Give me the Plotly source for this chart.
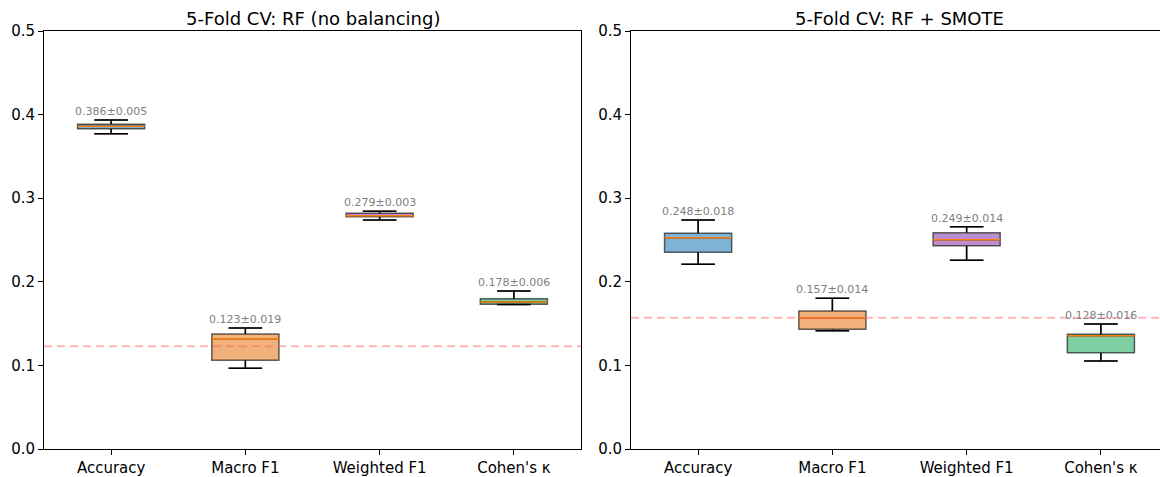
import plotly.graph_objects as go

# Metrics evaluated in 5-fold cross-validation
metrics = ["Accuracy", "Macro F1", "Weighted F1", "Cohen's κ"]

# Random forest without class balancing: per-metric box statistics
rf_q1 = [0.3832, 0.1061, 0.2779, 0.1731]
rf_median = [0.3862, 0.1320, 0.2791, 0.1758]
rf_q3 = [0.3884, 0.1376, 0.2819, 0.1798]
rf_low = [0.3772, 0.0965, 0.2739, 0.1728]
rf_high = [0.3936, 0.1447, 0.2843, 0.1890]
rf_mean = [0.386, 0.123, 0.279, 0.178]
rf_std = [0.005, 0.019, 0.003, 0.006]

# Random forest with SMOTE oversampling
sm_q1 = [0.2353, 0.1432, 0.2432, 0.1152]
sm_median = [0.2528, 0.1571, 0.2504, 0.1355]
sm_q3 = [0.2580, 0.1651, 0.2588, 0.1372]
sm_low = [0.2209, 0.1415, 0.2257, 0.1053]
sm_high = [0.2739, 0.1803, 0.2659, 0.1495]
sm_mean = [0.248, 0.157, 0.249, 0.128]
sm_std = [0.018, 0.014, 0.014, 0.016]

y_ticks = [0.0, 0.1, 0.2, 0.3, 0.4, 0.5]

fill_colors = [
    "rgba(41,128,185,0.6)",
    "rgba(230,126,34,0.6)",
    "rgba(142,68,173,0.6)",
    "rgba(39,174,96,0.6)",
]
FONT = "DejaVu Sans"
BOX_W = 0.5

W, H = 1160, 477
ML, MR, MT, MB = 44, 0, 31, 28
plot_w = W - ML - MR
unit_px = 537 / 4.0  # pixels per category slot
left_dom = [0, 537 / plot_w]
right_dom = [587 / plot_w, 1.0]
right_range = [-0.5, -0.5 + (plot_w - 587) / unit_px]

fig = go.Figure()


def add_panel(xa, ya, q1, med, q3, lo, hi, mean, std):
    xref = "x" if xa == "x" else "x2"
    yref = "y" if ya == "y" else "y2"
    for i in range(len(metrics)):
        fig.add_trace(go.Box(
            x=[i], q1=[q1[i]], median=[med[i]], q3=[q3[i]],
            lowerfence=[lo[i]], upperfence=[hi[i]],
            width=BOX_W, whiskerwidth=0.5,
            fillcolor=fill_colors[i],
            line=dict(color="rgba(0,0,0,0.6)", width=1.5),
            boxpoints=False, showlegend=False, hoverinfo="skip",
            xaxis=xa, yaxis=ya,
        ))
        # whiskers and caps in solid black
        cap = BOX_W / 4
        wx = [i, i, None, i - cap, i + cap, None, i, i, None, i - cap, i + cap]
        wy = [q3[i], hi[i], None, hi[i], hi[i], None, q1[i], lo[i], None, lo[i], lo[i]]
        fig.add_trace(go.Scatter(
            x=wx, y=wy, mode="lines", line=dict(color="black", width=1.5),
            showlegend=False, hoverinfo="skip", xaxis=xa, yaxis=ya,
        ))
        # median line
        fig.add_trace(go.Scatter(
            x=[i - BOX_W / 2, i + BOX_W / 2], y=[med[i], med[i]], mode="lines",
            line=dict(color="#ff7f0e", width=1.5),
            showlegend=False, hoverinfo="skip", xaxis=xa, yaxis=ya,
        ))
        fig.add_annotation(
            x=i, y=hi[i] + 0.005, xref=xref, yref=yref, yshift=-3,
            text=f"{mean[i]:.3f}±{std[i]:.3f}", showarrow=False,
            yanchor="bottom", borderpad=0,
            font=dict(family=FONT, size=11, color="gray"),
        )
    # reference line at the Macro F1 mean
    fig.add_shape(
        type="line", xref=f"{xref} domain", yref=yref, x0=0, x1=1,
        y0=mean[1], y1=mean[1],
        line=dict(color="rgba(255,90,90,0.45)", width=2, dash="8px,5px"),
        layer="above",
    )


add_panel("x", "y", rf_q1, rf_median, rf_q3, rf_low, rf_high, rf_mean, rf_std)
add_panel("x2", "y2", sm_q1, sm_median, sm_q3, sm_low, sm_high, sm_mean, sm_std)

axis_common = dict(
    showgrid=False, zeroline=False, showline=True, linecolor="black",
    linewidth=1, ticks="outside", ticklen=5, tickcolor="black",
    tickfont=dict(family=FONT, size=15, color="black"),
)
x_common = dict(axis_common, tickvals=list(range(len(metrics))), ticktext=metrics)
y_common = dict(axis_common, range=[0, 0.5], tickvals=y_ticks, tickformat=".1f")

fig.update_layout(
    width=W, height=H,
    margin=dict(l=ML, r=MR, t=MT, b=MB),
    paper_bgcolor="white", plot_bgcolor="white",
    xaxis=dict(x_common, domain=left_dom, range=[-0.5, 3.5], mirror=True, anchor="y"),
    yaxis=dict(y_common, domain=[0, 1], mirror=True, anchor="x"),
    xaxis2=dict(x_common, domain=right_dom, range=right_range, mirror=True, anchor="y2"),
    yaxis2=dict(y_common, domain=[0, 1], mirror=False, anchor="x2"),
    font=dict(family=FONT),
)

title_y = 1 + (MT - 18) / (H - MT - MB)
for cx, txt in [(312.5, "5-Fold CV: RF (no balancing)"), (899.5, "5-Fold CV: RF + SMOTE")]:
    fig.add_annotation(
        x=(cx - ML) / plot_w, y=title_y, xref="paper", yref="paper",
        text=txt, showarrow=False, yanchor="middle", xanchor="center",
        font=dict(family=FONT, size=18, color="black"),
    )

fig.write_html("out.html")
